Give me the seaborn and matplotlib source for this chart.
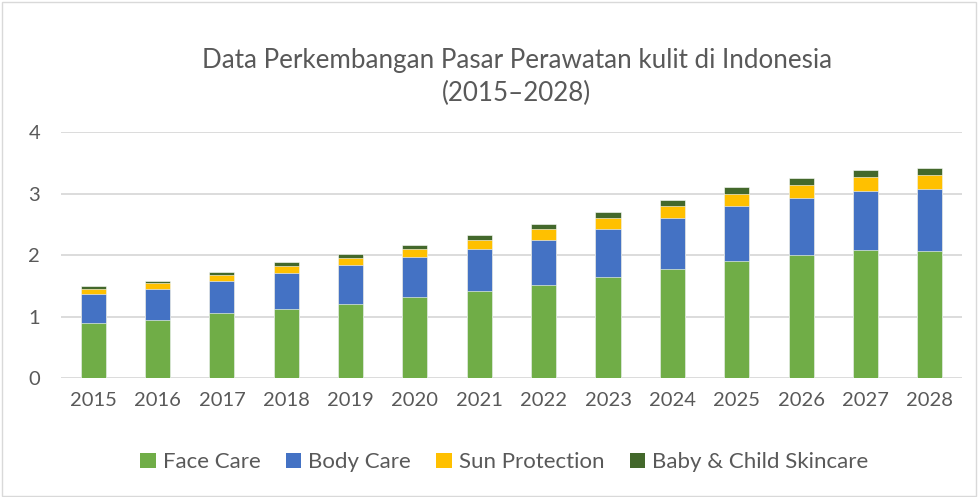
import matplotlib
matplotlib.use("Agg")
import matplotlib.pyplot as plt
import seaborn as sns
import pandas as pd
from matplotlib.patches import Rectangle, Patch

# data
years = [str(y) for y in range(2015, 2029)]
face_care = [0.89, 0.95, 1.05, 1.12, 1.21, 1.31, 1.41, 1.52, 1.64, 1.77, 1.91, 2.00, 2.08, 2.07]
body_care = [0.48, 0.49, 0.53, 0.59, 0.62, 0.65, 0.69, 0.73, 0.78, 0.83, 0.88, 0.92, 0.96, 1.00]
sun_protection = [0.08, 0.10, 0.10, 0.11, 0.12, 0.14, 0.15, 0.17, 0.18, 0.19, 0.21, 0.22, 0.23, 0.23]
baby_child = [0.04, 0.04, 0.05, 0.06, 0.07, 0.07, 0.08, 0.09, 0.10, 0.10, 0.11, 0.11, 0.12, 0.12]

series = ["Face Care", "Body Care", "Sun Protection", "Baby & Child Skincare"]
colors = ["#70AD47", "#4472C4", "#FFC000", "#43682B"]

df = pd.DataFrame({"Year": years, "Face Care": face_care, "Body Care": body_care,
                   "Sun Protection": sun_protection, "Baby & Child Skincare": baby_child})

sns.set_theme(style="white")
plt.rcParams["font.family"] = ["Lato", "DejaVu Sans"]
text_col = "#595959"

fig = plt.figure(figsize=(9.79, 4.97), dpi=100)
ax = fig.add_axes([0.0623, 0.2394, 0.9203, 0.495])

# stacked bars: draw cumulative totals, tallest first
cum = df[series].cumsum(axis=1)
for name, col in reversed(list(zip(series, colors))):
    sns.barplot(x=df["Year"], y=cum[name], color=col, width=0.39, ax=ax,
                saturation=1, edgecolor="white", linewidth=0.4)

ax.set_ylim(0, 4)
ax.set_xlim(-0.5, len(years) - 0.5)
ax.set_yticks([0, 1, 2, 3, 4])
ax.yaxis.grid(True, color="#D9D9D9", linewidth=1.3)
ax.set_axisbelow(True)
for s in ax.spines.values():
    s.set_visible(False)
ax.set_xlabel("")
ax.set_ylabel("")
ax.tick_params(axis="both", length=0, labelsize=14.5, colors=text_col)
ax.tick_params(axis="y", pad=15)
ax.tick_params(axis="x", pad=10)

fig.text(0.528, 0.845, "Data Perkembangan Pasar Perawatan kulit di Indonesia\n(2015\u20132028)",
         ha="center", va="center", fontsize=18.7, color=text_col, linespacing=1.35)

handles = [Patch(facecolor=c, edgecolor="none") for c in colors]
fig.legend(handles, series, loc="center", bbox_to_anchor=(0.515, 0.07), ncol=4,
           frameon=False, fontsize=16, labelcolor=text_col, handlelength=0.7,
           handleheight=0.7, handletextpad=0.3, columnspacing=1.15)

fig.patches.append(Rectangle((0.002, 0.003), 0.995, 0.993, transform=fig.transFigure,
                             fill=False, edgecolor="#D9D9D9", linewidth=1))

fig.savefig("out.png", dpi=100)
